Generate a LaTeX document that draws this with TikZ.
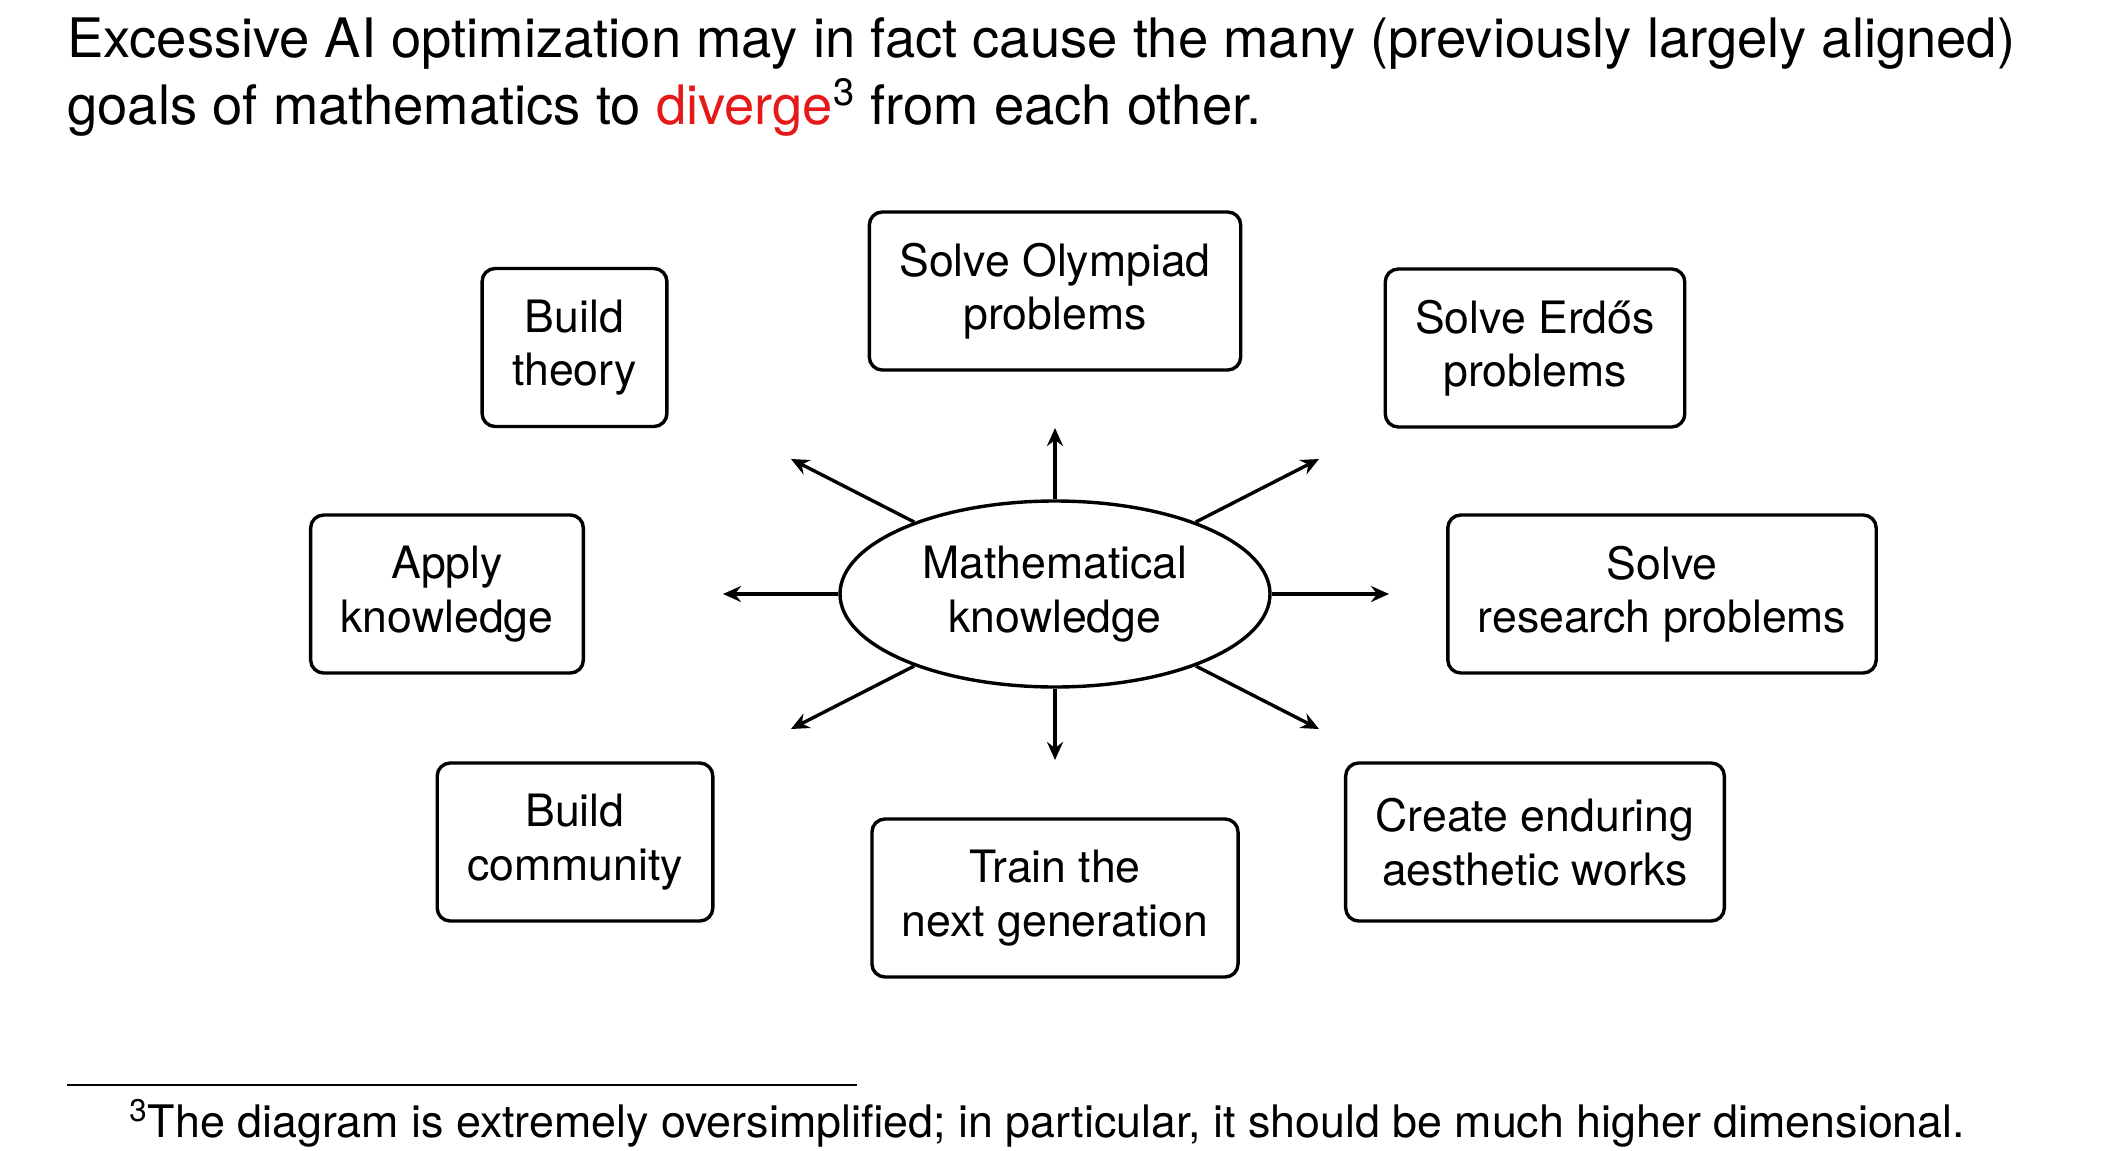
\documentclass[tikz,border=0pt]{standalone}
\usepackage{fontspec}
\setmainfont{TeX Gyre Heros}
\usetikzlibrary{shapes.geometric,arrows.meta}
\definecolor{divred}{RGB}{230,25,25}
\begin{document}
\begin{tikzpicture}[x=0.5pt,y=-0.5pt,
  goal/.style={draw, line width=1.7pt, rounded corners=6.5pt, align=center,
    inner xsep=15pt, minimum height=79pt, font=\fontsize{22.3}{26.8}\selectfont},
  arr/.style={line width=1.7pt, -{Stealth[length=9pt,width=8pt,inset=3pt]}},
  txt/.style={anchor=base west, inner sep=0pt}]
\useasboundingbox (0,0) rectangle (2110,1151);
% title
\node[txt, font=\fontsize{27.2}{32}\selectfont] (t1) at (67,57)
  {Excessive AI optimization may in fact cause the many (previously largely aligned)};
\node[txt, font=\fontsize{27.2}{32}\selectfont] (t2) at (67,124)
  {goals of mathematics to \textcolor{divred}{diverge}\textsuperscript{3} from each other.};
% centre
\node[ellipse, draw, line width=1.7pt, minimum width=215pt, minimum height=93pt,
  inner sep=0pt, align=center, font=\fontsize{22.3}{26.8}\selectfont] (mk) at (1055,594)
  {Mathematical\\knowledge};
% goals
\node[goal] (olym) at (1055,291) {Solve Olympiad\\problems};
\node[goal] (theory) at (574.5,347.5) {Build\\theory};
\node[goal] (erdos) at (1535,348) {Solve Erdős\\problems};
\node[goal] (apply) at (447,594) {Apply\\knowledge};
\node[goal] (research) at (1662,594) {Solve\\research problems};
\node[goal] (community) at (575,842) {Build\\community};
\node[goal] (train) at (1055,898) {Train the\\next generation};
\node[goal] (create) at (1535,842) {Create enduring\\aesthetic works};
% arrow ends
\coordinate (eu) at (1055,428);
\coordinate (ed) at (1055,760);
\coordinate (el) at (723,594);
\coordinate (er) at (1389,594);
\coordinate (eul) at (791,459);
\coordinate (eur) at (1319,459);
\coordinate (edl) at (791,729);
\coordinate (edr) at (1319,729);
\foreach \e in {eu,ed,el,er,eul,eur,edl,edr} \draw[arr] (mk) -- (\e);
% footnote
\coordinate (rl) at (67,1085);
\coordinate (rr) at (857,1085);
\draw[line width=0.7pt] (rl) -- (rr);
\node[txt, font=\fontsize{22.4}{26}\selectfont] (fn) at (129,1137)
  {\textsuperscript{3}The diagram is extremely oversimplified; in particular, it should be much higher dimensional.};
\end{tikzpicture}
\end{document}
